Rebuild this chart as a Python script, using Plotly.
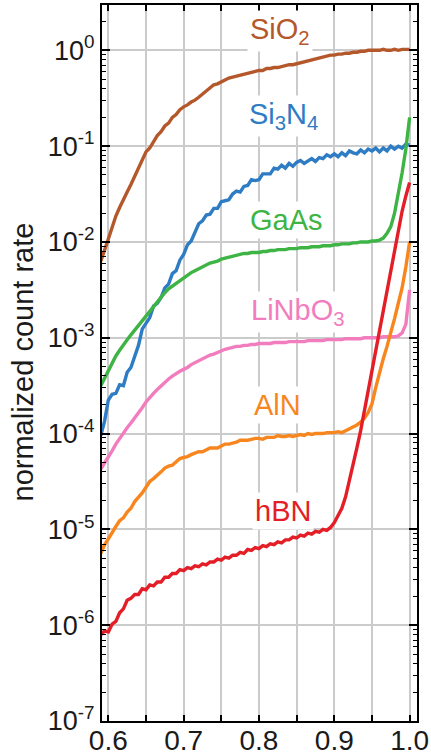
import numpy as np
import plotly.graph_objects as go

# Sampling positions (normalized axis), 0.590 ... 1.000 in steps of 0.005
x_norm = np.round(np.arange(0.590, 1.0001, 0.005), 3)

# log10 of the normalized count rate, one row = 10 samples
sio2_log10 = [
    -2.20, -2.07, -1.97, -1.85, -1.73, -1.64, -1.55, -1.48, -1.40, -1.31,
    -1.23, -1.14, -1.06, -1.02, -0.96, -0.89, -0.85, -0.79, -0.76, -0.70,
    -0.67, -0.62, -0.59, -0.57, -0.54, -0.52, -0.49, -0.46, -0.43, -0.39,
    -0.36, -0.35, -0.33, -0.31, -0.29, -0.28, -0.27, -0.26, -0.25, -0.24,
    -0.23, -0.22, -0.21, -0.21, -0.19, -0.19, -0.18, -0.18, -0.17, -0.16,
    -0.15, -0.15, -0.14, -0.13, -0.12, -0.11, -0.10, -0.09, -0.08, -0.07,
    -0.06, -0.05, -0.05, -0.04, -0.04, -0.03, -0.03, -0.02, -0.02, -0.01,
    -0.01, 0.00, 0.00, 0.00, 0.00, 0.01, 0.00, 0.00, 0.01, 0.00,
    0.01, 0.01, 0.01,
]
si3n4_log10 = [
    -4.02, -3.87, -3.65, -3.59, -3.58, -3.49, -3.50, -3.36, -3.31, -3.19,
    -3.08, -2.91, -2.85, -2.79, -2.67, -2.64, -2.58, -2.48, -2.44, -2.33,
    -2.30, -2.19, -2.13, -2.03, -1.99, -1.90, -1.81, -1.78, -1.72, -1.71,
    -1.65, -1.65, -1.58, -1.57, -1.56, -1.50, -1.47, -1.48, -1.42, -1.41,
    -1.35, -1.36, -1.35, -1.29, -1.29, -1.29, -1.23, -1.24, -1.20, -1.23,
    -1.18, -1.21, -1.17, -1.15, -1.18, -1.15, -1.13, -1.16, -1.12, -1.13,
    -1.09, -1.11, -1.08, -1.11, -1.07, -1.10, -1.05, -1.07, -1.08, -1.04,
    -1.07, -1.03, -1.05, -1.02, -1.06, -1.02, -1.05, -1.00, -1.03, -1.00,
    -1.02, -0.98, -0.99,
]
gaas_log10 = [
    -3.50, -3.42, -3.34, -3.26, -3.19, -3.13, -3.07, -3.02, -2.97, -2.92,
    -2.87, -2.82, -2.77, -2.72, -2.67, -2.62, -2.57, -2.53, -2.49, -2.46,
    -2.43, -2.40, -2.37, -2.35, -2.32, -2.30, -2.28, -2.26, -2.24, -2.22,
    -2.21, -2.20, -2.18, -2.17, -2.16, -2.15, -2.14, -2.13, -2.12, -2.12,
    -2.11, -2.11, -2.11, -2.10, -2.10, -2.09, -2.09, -2.08, -2.08, -2.08,
    -2.07, -2.07, -2.07, -2.06, -2.06, -2.06, -2.05, -2.05, -2.05, -2.04,
    -2.04, -2.04, -2.03, -2.03, -2.02, -2.02, -2.02, -2.01, -2.01, -2.00,
    -2.00, -2.00, -1.99, -1.99, -1.98, -1.96, -1.91, -1.84, -1.70, -1.50,
    -1.28, -1.03, -0.70,
]
linbo3_log10 = [
    -4.37, -4.31, -4.24, -4.18, -4.11, -4.05, -4.00, -3.94, -3.89, -3.84,
    -3.78, -3.73, -3.67, -3.62, -3.58, -3.54, -3.50, -3.46, -3.43, -3.40,
    -3.37, -3.35, -3.33, -3.31, -3.28, -3.26, -3.24, -3.22, -3.20, -3.18,
    -3.17, -3.15, -3.13, -3.12, -3.11, -3.10, -3.09, -3.09, -3.08, -3.08,
    -3.07, -3.07, -3.06, -3.06, -3.06, -3.06, -3.05, -3.05, -3.05, -3.05,
    -3.04, -3.04, -3.04, -3.04, -3.04, -3.03, -3.03, -3.03, -3.03, -3.03,
    -3.02, -3.02, -3.02, -3.02, -3.02, -3.01, -3.01, -3.01, -3.01, -3.01,
    -3.00, -3.00, -3.00, -3.00, -3.00, -2.99, -2.99, -2.99, -2.99, -2.98,
    -2.95, -2.86, -2.50,
]
aln_log10 = [
    -5.25, -5.16, -5.10, -5.03, -4.97, -4.91, -4.88, -4.82, -4.78, -4.71,
    -4.67, -4.62, -4.56, -4.50, -4.47, -4.44, -4.40, -4.36, -4.34, -4.33,
    -4.30, -4.26, -4.25, -4.24, -4.22, -4.20, -4.19, -4.19, -4.17, -4.15,
    -4.15, -4.15, -4.13, -4.11, -4.11, -4.10, -4.09, -4.07, -4.07, -4.07,
    -4.06, -4.05, -4.05, -4.06, -4.04, -4.04, -4.04, -4.02, -4.03, -4.03,
    -4.02, -4.03, -4.02, -4.01, -4.02, -4.00, -4.01, -4.00, -4.00, -4.00,
    -3.99, -3.99, -3.99, -3.98, -3.99, -3.97, -3.95, -3.93, -3.91, -3.88,
    -3.84, -3.78, -3.69, -3.52, -3.36, -3.22, -3.09, -2.96, -2.80, -2.64,
    -2.48, -2.26, -2.00,
]
hbn_log10 = [
    -6.10, -6.06, -6.07, -5.99, -5.96, -5.87, -5.83, -5.74, -5.72, -5.68,
    -5.68, -5.62, -5.63, -5.58, -5.59, -5.55, -5.55, -5.50, -5.50, -5.46,
    -5.46, -5.42, -5.43, -5.40, -5.41, -5.38, -5.39, -5.36, -5.37, -5.34,
    -5.34, -5.31, -5.32, -5.29, -5.30, -5.27, -5.27, -5.24, -5.25, -5.21,
    -5.22, -5.19, -5.20, -5.17, -5.18, -5.15, -5.16, -5.13, -5.14, -5.11,
    -5.11, -5.08, -5.09, -5.06, -5.07, -5.04, -5.05, -5.02, -5.03, -5.00,
    -5.01, -4.98, -4.93, -4.86, -4.78, -4.66, -4.50, -4.33, -4.15, -3.97,
    -3.76, -3.55, -3.34, -3.13, -2.92, -2.71, -2.50, -2.29, -2.08, -1.87,
    -1.68, -1.52, -1.38,
]

materials = ["SiO<sub>2</sub>", "Si<sub>3</sub>N<sub>4</sub>", "GaAs",
             "LiNbO<sub>3</sub>", "AlN", "hBN"]

x_tick_vals = [0.6, 0.7, 0.8, 0.9, 1.0]
x_tick_text = ["0.6", "0.7", "0.8", "0.9", "1.0"]
y_exponents = [-7, -6, -5, -4, -3, -2, -1, 0]

# drawing order (bottom to top) and colour per material
series = {
    "SiO<sub>2</sub>": (sio2_log10, "#B4582C"),
    "Si<sub>3</sub>N<sub>4</sub>": (si3n4_log10, "#2E7CC4"),
    "LiNbO<sub>3</sub>": (linbo3_log10, "#F27DBE"),
    "AlN": (aln_log10, "#F8861E"),
    "GaAs": (gaas_log10, "#3DB444"),
    "hBN": (hbn_log10, "#E41E27"),
}

# label placement: (x in data units, log10 of y)
label_pos = {
    "SiO<sub>2</sub>": (0.828, 0.20),
    "Si<sub>3</sub>N<sub>4</sub>": (0.833, -0.69),
    "GaAs": (0.837, -1.77),
    "LiNbO<sub>3</sub>": (0.851, -2.73),
    "AlN": (0.825, -3.70),
    "hBN": (0.832, -4.81),
}

FONT = "Liberation Sans, Arial, sans-serif"

fig = go.Figure()
for name, (vals, color) in series.items():
    fig.add_trace(go.Scatter(
        x=x_norm, y=10 ** np.array(vals), mode="lines", name=name,
        line=dict(color=color, width=3.4), showlegend=False,
    ))

annotations = []
for name in materials:
    lx, ly = label_pos[name]
    annotations.append(dict(
        x=lx, y=ly, xref="x", yref="y", text=name, showarrow=False,
        font=dict(family=FONT, size=29, color=series[name][1]),
        bgcolor="white", borderpad=2, xanchor="center", yanchor="middle",
    ))

annotations.append(dict(
    x=-0.251, y=0.502, xref="paper", yref="paper", text="normalized count rate",
    textangle=-90, showarrow=False, xanchor="center", yanchor="middle",
    font=dict(family=FONT, size=29, color="#1a1a1a"),
))

minor_y = [m * 10.0 ** e for e in range(-7, 1) for m in range(2, 10)]

fig.update_layout(
    width=431, height=756,
    margin=dict(l=102, r=14, t=5, b=35, autoexpand=False),
    paper_bgcolor="white", plot_bgcolor="white",
    font=dict(family=FONT, color="#1a1a1a"),
    annotations=annotations,
)
fig.update_xaxes(
    range=[0.5916, 1.0098], tickmode="array", tickvals=x_tick_vals, ticktext=x_tick_text,
    ticks="inside", ticklen=6, tickwidth=1.5, tickcolor="black",
    showgrid=True, gridcolor="#cbcbcb", gridwidth=1.5,
    showline=True, linecolor="black", linewidth=2, mirror="ticks",
    tickfont=dict(family=FONT, size=28, color="#1a1a1a"), zeroline=False,
    ticklabelstandoff=-7, automargin=False,
    minor=dict(dtick=0.05, tick0=0.55, ticks="inside", ticklen=6, tickwidth=1.5,
               tickcolor="black", showgrid=True, gridcolor="#cbcbcb", gridwidth=1.5),
)
fig.update_yaxes(
    type="log", range=[-7, 0.473], tickmode="array",
    tickvals=[10.0 ** e for e in y_exponents],
    ticktext=[f"10<sup>{e}</sup>" for e in y_exponents],
    ticks="inside", ticklen=8, tickwidth=1.5, tickcolor="black",
    showgrid=True, gridcolor="#cbcbcb", gridwidth=1.5,
    showline=True, linecolor="black", linewidth=2, mirror="ticks",
    tickfont=dict(family=FONT, size=27, color="#1a1a1a"), zeroline=False,
    automargin=False,
    minor=dict(tickmode="array", tickvals=minor_y, ticks="inside", ticklen=4,
               tickwidth=1, tickcolor="black", showgrid=False),
)

fig.write_html("out.html")
